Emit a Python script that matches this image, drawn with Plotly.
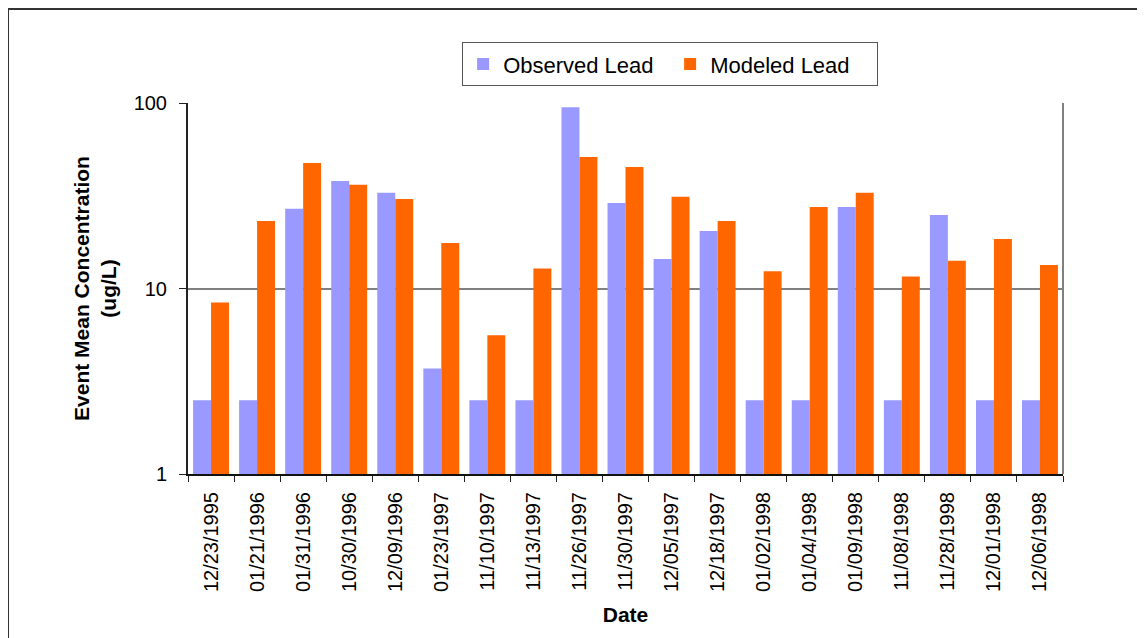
import plotly.graph_objects as go

dates = ["12/23/1995", "01/21/1996", "01/31/1996", "10/30/1996", "12/09/1996",
         "01/23/1997", "11/10/1997", "11/13/1997", "11/26/1997", "11/30/1997",
         "12/05/1997", "12/18/1997", "01/02/1998", "01/04/1998", "01/09/1998",
         "11/08/1998", "11/28/1998", "12/01/1998", "12/06/1998"]
observed_lead = [2.5, 2.5, 26.9, 38.0, 32.8, 3.7, 2.5, 2.5, 95.0, 28.9,
                 14.4, 20.4, 2.5, 2.5, 27.5, 2.5, 24.9, 2.5, 2.5]
modeled_lead = [8.4, 23.1, 47.5, 36.2, 30.4, 17.6, 5.6, 12.8, 51.2, 45.2,
                31.2, 23.1, 12.4, 27.5, 32.8, 11.6, 14.1, 18.5, 13.4]
y_tick_vals = [1, 10, 100]
y_tick_text = ["1", "10", "100"]

FONT = "Liberation Sans, Arial, sans-serif"

fig = go.Figure()
fig.add_trace(go.Bar(x=dates, y=observed_lead, name="Observed Lead",
                     marker=dict(color="#9999FF", line=dict(width=0))))
fig.add_trace(go.Bar(x=dates, y=modeled_lead, name="Modeled Lead",
                     marker=dict(color="#FF6600", line=dict(width=0))))

fig.update_layout(
    width=1145, height=638,
    margin=dict(l=180, r=90, t=95, b=172),
    paper_bgcolor="white", plot_bgcolor="white",
    barmode="group", bargap=0.22, bargroupgap=0,
    font=dict(family=FONT, size=20, color="black"),
    legend=dict(orientation="h", x=0.551, xanchor="center", y=1.164, yanchor="top",
                bordercolor="#555555", borderwidth=1, bgcolor="white",
                font=dict(size=22), entrywidth=162, traceorder="normal"),
    showlegend=True,
)
fig.update_xaxes(
    type="category", tickangle=-90, tickson="boundaries",
    ticks="outside", ticklen=6, tickcolor="#222222", tickwidth=1,
    showline=True, linecolor="#111111", linewidth=2,
    showgrid=False, ticklabelstandoff=8,
    tickfont=dict(size=20),
    title=dict(text="<b>Date</b>", font=dict(size=21), standoff=16),
)
fig.update_yaxes(
    type="log", range=[0, 2],
    tickvals=y_tick_vals, ticktext=y_tick_text,
    ticks="outside", ticklen=7, tickcolor="#222222", tickwidth=1,
    showline=True, linecolor="#222222", linewidth=2,
    showgrid=True, gridcolor="#808080", gridwidth=2,
    ticklabelstandoff=8,
    tickfont=dict(size=20),
    title=dict(text="<b>Event Mean Concentration<br>(ug/L)</b>", font=dict(size=21), standoff=11),
)
# plot-area right edge
fig.add_shape(type="line", xref="paper", yref="paper", x0=1, x1=1, y0=0, y1=1,
              line=dict(color="#808080", width=2))
# outer chart border (top and left)
fig.add_shape(type="line", xref="paper", yref="paper", x0=-0.2057, x1=1.12, y0=1.2534, y1=1.2534,
              line=dict(color="#333333", width=2))
fig.add_shape(type="line", xref="paper", yref="paper", x0=-0.2057, x1=-0.2057, y0=1.2534, y1=-0.48,
              line=dict(color="#333333", width=2))

fig.write_html("out.html")
